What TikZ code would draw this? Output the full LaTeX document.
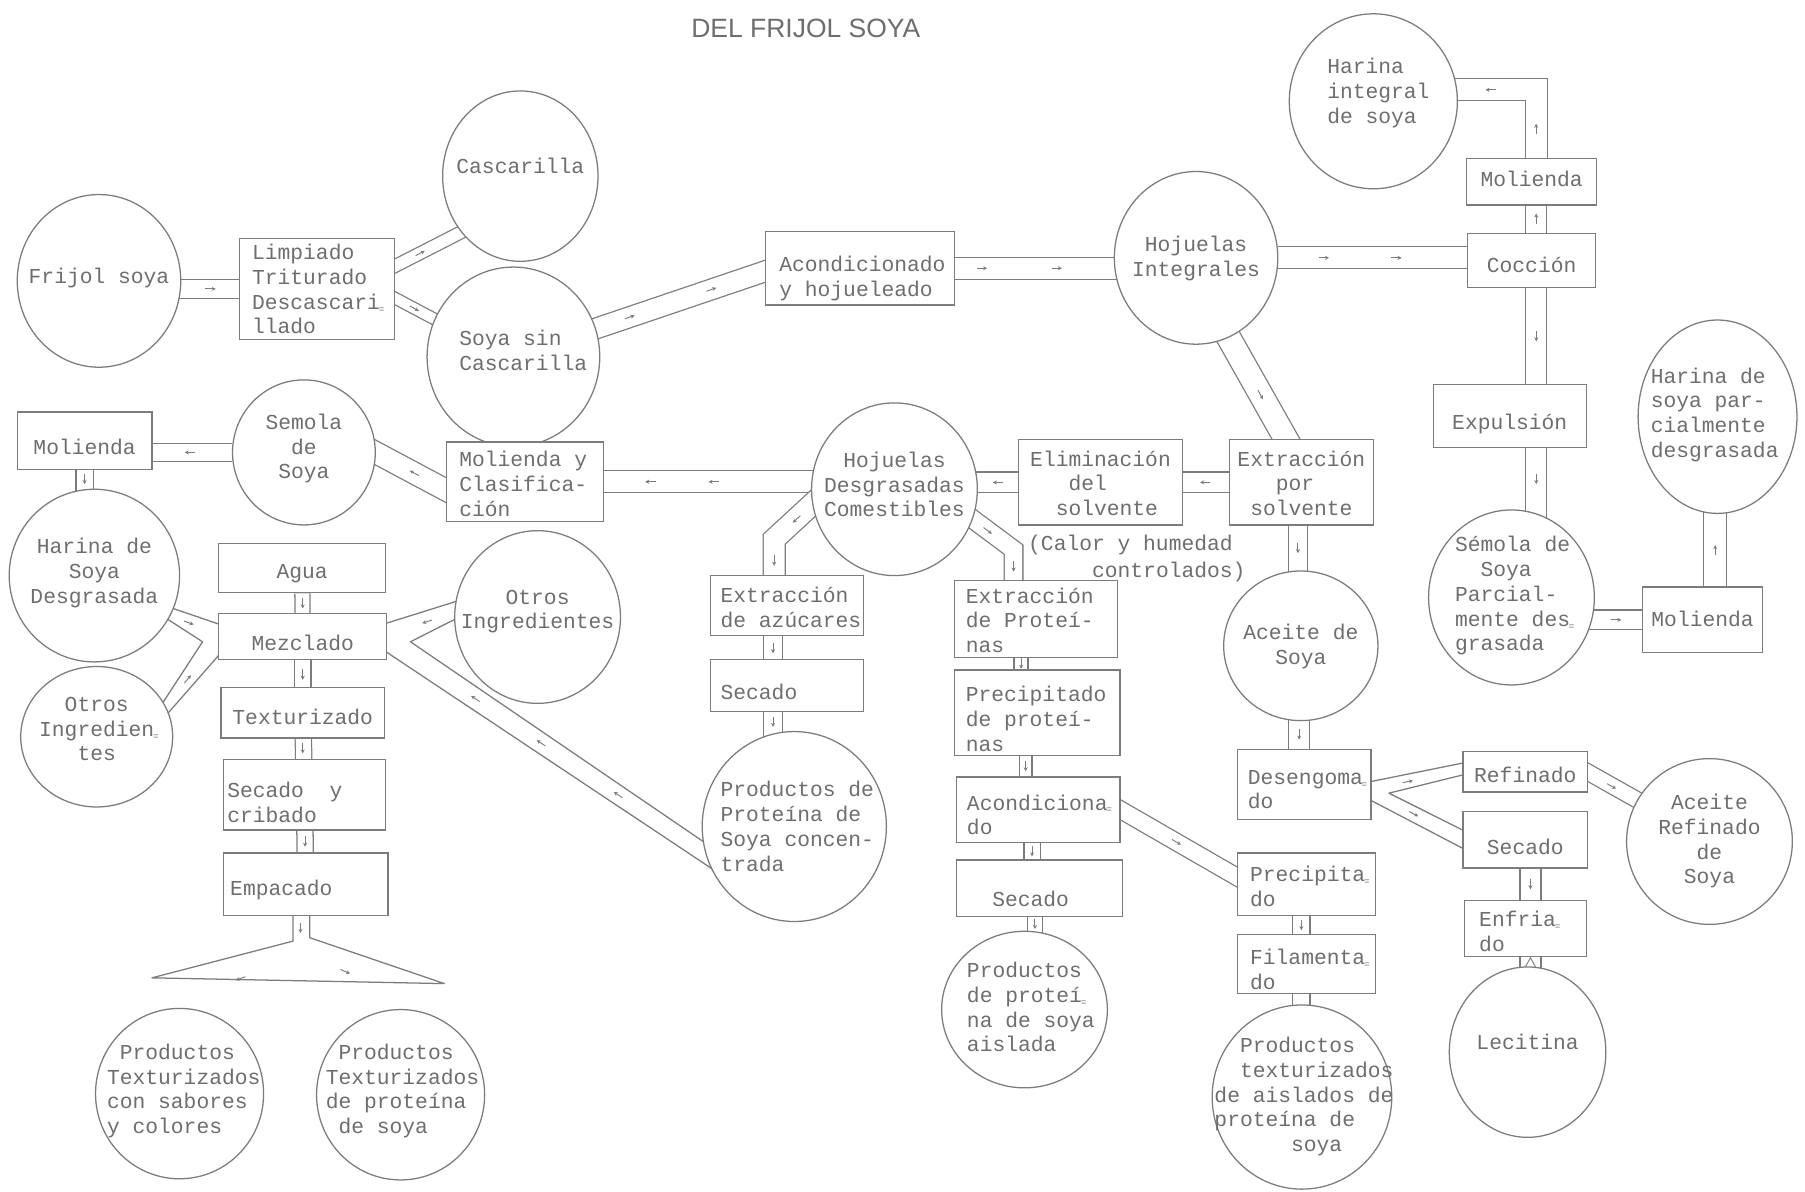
\documentclass[tikz,border=0pt]{standalone}
\usepackage{fontspec}
\newfontfamily\tw{Liberation Mono}
\newfontfamily\ttl{Liberation Sans}
\usetikzlibrary{shapes.geometric,calc,arrows.meta}
\pgfdeclarelayer{bg}
\pgfsetlayers{bg,main}
\definecolor{ink}{HTML}{7C7C7C}
\definecolor{txt}{HTML}{6E6E6E}
\newdimen\tshft \tshft=5.5pt
\newcommand\ctxt[2][0]{\smash{\makebox[0pt]{\raisebox{\dimexpr-#1pt-\tshft\relax}{\begin{tabular}{@{}c@{}}#2\end{tabular}}}}}
\newcommand\cltxt[2][0]{\smash{\makebox[0pt]{\raisebox{\dimexpr-#1pt-\tshft\relax}{\begin{tabular}{@{}l@{}}#2\end{tabular}}}}}
\newcommand\ltxt[3]{\smash{\makebox[0pt][l]{\hspace*{#1pt}\raisebox{\dimexpr-#2pt-\tshft\relax}{\begin{tabular}{@{}l@{}}#3\end{tabular}}}}}
\newcommand\hym{\rlap{\kern-1pt\raisebox{-2.5pt}{\fontsize{8}{8}\selectfont =}}}
\newcommand\marr[3]{\draw[mk] (#1,#2) ++(#3+180:4.5pt) -- ++(#3:9pt);}
\tikzset{
  circ/.style={ellipse, draw=ink, line width=1.1pt, fill=white, inner sep=0pt, text=txt, font=\tw\fontsize{18.5}{21.5}\selectfont},
  box/.style={rectangle, draw=ink, line width=1.1pt, fill=white, inner sep=0pt, text=txt, font=\tw\fontsize{18.5}{21.5}\selectfont},
  pipe/.style={draw=ink, line width=1.1pt, double=white, double distance=#1},
  pipe/.default=17pt,
  wall/.style={draw=ink, line width=1.1pt, line join=round},
  mk/.style={draw=ink, line width=0.8pt, -{Stealth[length=3.5pt,width=3.5pt]}}
}
\begin{document}
\begin{tikzpicture}[x=1pt,y=-1pt]
\useasboundingbox (0,0) rectangle (1568,1035);

% ---------- circles ----------
\node[circ,minimum width=142pt,minimum height=150pt] (frijol) at (86,244) {\ctxt[-3]{Frijol soya}};
\node[circ,minimum width=135pt,minimum height=148pt] (cascar) at (452,153) {\ctxt[-8]{Cascarilla}};
\node[circ,minimum width=150pt,minimum height=156pt] (soyasin) at (446,310) {\ltxt{-47}{-4.5}{Soya sin\\Cascarilla}};
\node[circ,minimum width=142pt,minimum height=150pt] (hojint) at (1039,224) {\ctxt{Hojuelas\\Integrales}};
\node[circ,minimum width=146pt,minimum height=152pt] (harint) at (1193,88) {\ltxt{-40}{-8}{Harina\\integral\\de soya}};
\node[circ,minimum width=124pt,minimum height=126pt] (semola) at (264,393) {\ctxt[-4]{Semola\\de\\Soya}};
\node[circ,minimum width=144pt,minimum height=150pt] (hojdes) at (777,425) {\ctxt[-3]{Hojuelas\\Desgrasadas\\Comestibles}};
\node[circ,minimum width=148pt,minimum height=150pt] (harinad) at (82,500) {\ctxt[-3]{Harina de\\Soya\\Desgrasada}};
\node[circ,minimum width=132pt,minimum height=122pt] (otrosL) at (84,640) {\ctxt[-6]{Otros\\Ingredien\hym\\tes}};
\node[circ,minimum width=144pt,minimum height=150pt] (otrosM) at (467,536) {\ctxt[-6]{Otros\\Ingredientes}};
\node[circ,minimum width=160pt,minimum height=165pt] (prodconc) at (690,718) {\ltxt{-64}{1}{Productos de\\Proteína de\\Soya concen-\\trada}};
\node[circ,minimum width=146pt,minimum height=148pt] (prodtexA) at (156,950) {\ltxt{-63}{-3}{\hphantom{x}Productos\\Texturizados\\con sabores\\y colores}};
\node[circ,minimum width=146pt,minimum height=148pt] (prodtexB) at (348,951) {\ltxt{-65}{-4}{\hphantom{x}Productos\\Texturizados\\de proteína\\\hphantom{x}de soya}};
\node[circ,minimum width=144pt,minimum height=136pt] (prodais) at (890,877) {\ltxt{-50}{-1}{Productos\\de proteí\hym\\na de soya\\aislada}};
\node[circ,minimum width=134pt,minimum height=130pt] (aceite) at (1130,561) {\ctxt{Aceite de\\Soya}};
\node[circ,minimum width=144pt,minimum height=152pt] (semolaP) at (1313,519) {\ltxt{-49}{-2}{Sémola de\\\hphantom{xx}Soya\\Parcial-\\mente des\hym\\grasada}};
\node[circ,minimum width=138pt,minimum height=168pt] (harinaP) at (1492,362) {\ltxt{-58}{-2.5}{Harina de\\soya par-\\cialmente\\desgrasada}};
\node[circ,minimum width=144pt,minimum height=144pt] (aceiteR) at (1485,731) {\ctxt[-1]{Aceite\\Refinado\\de\\Soya}};
\node[circ,minimum width=136pt,minimum height=148pt] (lecitina) at (1327,914) {\ctxt[-8]{Lecitina}};
\node[circ,minimum width=156pt,minimum height=160pt] (prodtexais) at (1131,953) {\ltxt{-76}{-1}{\hphantom{xx}Productos\\\hphantom{xx}texturizados\\de aislados de\\proteína de\\\hphantom{xxxxxx}soya}};

% ---------- boxes ----------
\node[box,minimum width=135pt,minimum height=88pt] (limp) at (275.5,251) {\ltxt{-56.5}{1.4}{Limpiado\\Triturado\\Descascari\hym\\llado}};
\node[box,minimum width=164pt,minimum height=64pt] (acond) at (747,233) {\ltxt{-70}{8}{Acondicionado\\y hojueleado}};
\node[box,minimum width=113pt,minimum height=40pt] (molT) at (1330.5,158) {\ctxt[-1.5]{Molienda}};
\node[box,minimum width=111pt,minimum height=47pt] (coccion) at (1330.5,226.5) {\ctxt[5]{Cocción}};
\node[box,minimum width=133pt,minimum height=55pt] (expulsion) at (1311.5,361.5) {\ctxt[6]{Expulsión}};
\node[box,minimum width=117pt,minimum height=50pt] (molL) at (73.5,383) {\ctxt[6]{Molienda}};
\node[box,minimum width=136pt,minimum height=69pt] (molclas) at (456,418.5) {\ltxt{-57}{3}{Molienda y\\Clasifica-\\ción}};
\node[box,minimum width=142pt,minimum height=74pt] (elim) at (956,419) {\cltxt[2]{Eliminación\\\hphantom{xxx}del\\\hphantom{xx}solvente}};
\node[box,minimum width=125pt,minimum height=74pt] (extsol) at (1130.5,419) {\cltxt[2]{Extracción\\\hphantom{xxx}por\\\hphantom{x}solvente}};
\node[box,minimum width=145pt,minimum height=43pt] (agua) at (262.5,493.5) {\ctxt[3.5]{Agua}};
\node[box,minimum width=146pt,minimum height=40pt] (mezclado) at (263,553) {\ctxt[7]{Mezclado}};
\node[box,minimum width=142pt,minimum height=44pt] (textur) at (263,619) {\ctxt[5]{Texturizado}};
\node[box,minimum width=141pt,minimum height=61pt] (secado1) at (264.5,690.5) {\ltxt{-67}{7.5}{Secado\hphantom{xx}y\\cribado}};
\node[box,minimum width=143pt,minimum height=54pt] (empacado) at (265.5,768) {\ltxt{-65.5}{4}{Empacado}};
\node[box,minimum width=133pt,minimum height=52pt] (extazu) at (683.5,526) {\ltxt{-57.5}{2.5}{Extracción\\de azúcares}};
\node[box,minimum width=133pt,minimum height=45pt] (secado2) at (683.5,595.5) {\ltxt{-57.5}{6.5}{Secado}};
\node[box,minimum width=142pt,minimum height=67pt] (extprot) at (900,537.5) {\ltxt{-61}{2.5}{Extracción\\de Proteí-\\nas}};
\node[box,minimum width=144pt,minimum height=74pt] (precprot) at (901,619) {\ltxt{-62}{6.5}{Precipitado\\de proteí-\\nas}};
\node[box,minimum width=142pt,minimum height=57pt] (acond2) at (902,703.5) {\ltxt{-62}{5.5}{Acondiciona\hym\\do}};
\node[box,minimum width=144pt,minimum height=49pt] (secado3) at (903,771.5) {\ltxt{-41}{10.5}{Secado}};
\node[box,minimum width=120pt,minimum height=54pt] (precip) at (1135,768) {\ltxt{-49}{3}{Precipita\hym\\do}};
\node[box,minimum width=120pt,minimum height=51pt] (filam) at (1135,837.5) {\ltxt{-49}{6}{Filamenta\hym\\do}};
\node[box,minimum width=116pt,minimum height=61pt] (deseng) at (1133,681.5) {\ltxt{-49}{5}{Desengoma\hym\\do}};
\node[box,minimum width=108pt,minimum height=35pt] (refinado) at (1325,670.5) {\ctxt[4]{Refinado}};
\node[box,minimum width=108pt,minimum height=49pt] (secado4) at (1325,729.5) {\ctxt[7.5]{Secado}};
\node[box,minimum width=106pt,minimum height=49pt] (enfriado) at (1325,806.5) {\ltxt{-40}{4}{Enfria\hym\\do}};
\node[box,minimum width=104pt,minimum height=57pt] (molR) at (1479,538.5) {\ctxt{Molienda}};

% ---------- free texts ----------
\node[font=\ttl\fontsize{23}{25}\selectfont, text=txt, inner sep=0pt] (title) at (700,25) {DEL FRIJOL SOYA};
\node[font=\tw\fontsize{18.5}{24}\selectfont, text=txt, inner sep=0pt, anchor=west, align=left] (calor) at (893,485) {(Calor y humedad\\\hphantom{(Calo}controlados)};

% ---------- connectors (behind the shapes) ----------
\begin{pgfonlayer}{bg}
\fill[white] (0,0) rectangle (1568,1035);
\draw[pipe=15pt] (limp -| frijol) -- (limp);
\draw[pipe=10pt] ($(limp.east)+(-8,-16)$) -- ($(cascar.center)!0.75!(cascar.229)$);
\draw[pipe=9pt] ($(limp.east)+(-8,4)$) -- ($(soyasin.center)!0.8!(soyasin.155)$);
\draw[pipe] ($(soyasin.center)!0.8!(soyasin.19)$) -- ($(acond.west)+(8,0)$);
\draw[pipe=18pt] (acond) -- (acond -| hojint);
\draw[pipe=18pt] (hojint) -- (hojint -| coccion);
\coordinate (cc) at ($(coccion.center)+(4,0)$);
\draw[pipe] (cc) -- (cc |- molT);
\draw[pipe=18pt] (cc |- molT) |- ($(harint.center)+(0,-10)$);
\draw[pipe] (cc) -- (cc |- expulsion);
\draw[pipe] (cc |- expulsion) -- (cc |- semolaP);
\draw[pipe=16pt] (molR -| semolaP) -- (molR);
\coordinate (cm) at ($(molR.center)+(11,0)$);
\draw[pipe=19pt] (cm) -- (cm |- harinaP);
\draw[pipe=20pt] ($(hojint.center)!0.85!(hojint.291)$) -- ($(extsol.north)+(-10,6)$);
\draw[pipe] (extsol) -- (elim);
\draw[pipe] (elim) -- (elim -| hojdes);
\draw[pipe=18pt] (molclas -| hojdes) -- (molclas);
\draw[pipe=18pt] ($(molclas.west)+(8,11.5)$) -- ($(semola.east)+(-8,-4)$);
\draw[pipe=15pt] (semola) -- (semola -| molL);
\draw[pipe=14pt] (molL) -- (molL |- harinad);
% left junction into Mezclado
\draw[wall] ($(harinad.center)+(58,25)$) -- ($(mezclado.west)+(6,-9)$);
\draw[wall] ($(harinad.center)+(56,33)$) -- ($(mezclado.west)+(-13.5,4.5)$) -- ($(otrosL.center)+(46,-12)$);
\draw[wall] ($(otrosL.center)+(44,0)$) -- ($(mezclado.west)+(6,10)$);
\draw[pipe=12pt] (agua) -- (mezclado);
% right junction into Mezclado
\draw[wall] ($(mezclado.east)+(-6,-10)$) -- ($(otrosM.center)+(-63,-16)$);
\draw[wall] ($(otrosM.center)+(-62,-3)$) -- ($(mezclado.east)+(20,4.5)$) -- ($(prodconc.center)+(-66,22)$);
\draw[wall] ($(mezclado.east)+(-6,10)$) -- ($(prodconc.center)+(-68,39)$);
\draw[pipe=13pt] (mezclado) -- (textur);
\draw[pipe=13pt] (textur) -- (secado1);
\draw[pipe=13pt] (secado1) -- (empacado);
% spreading out to the two products
\draw[wall] ($(empacado.south)+(-11,-5)$) -- ++(0,27) -- ($(prodtexA.north)+(-24,-26)$) -- ($(prodtexB.north)+(38,-22)$) -- ($(empacado.south)+(3.5,19)$) -- ($(empacado.south)+(3.5,-5)$);
% sugar extraction branch
\draw[pipe=18pt] ($(hojdes.center)+(-65,7)$) -- ($(extazu.north)+(-11,-31)$) -- ($(extazu.north)+(-11,8)$);
\coordinate (ca) at ($(extazu.center)+(-12,0)$);
\draw[pipe=15pt] (ca) -- (ca |- secado2);
\draw[pipe=15pt] (ca |- secado2) -- (ca |- prodconc);
% protein extraction branch
\draw[pipe=15pt] ($(hojdes.center)+(60,20)$) -- ($(extprot.north)+(-19.5,-26)$) -- ($(extprot.north)+(-19.5,8)$);
\coordinate (cp1) at ($(extprot.center)+(-13,0)$);
\draw[pipe=11pt] (cp1) -- (cp1 |- precprot);
\coordinate (cp2) at ($(precprot.center)+(-10,0)$);
\draw[pipe=10pt] (cp2) -- (cp2 |- acond2);
\coordinate (cp3) at ($(acond2.center)+(-5.5,0)$);
\draw[pipe=13pt] (cp3) -- (cp3 |- secado3);
\coordinate (cp4) at ($(secado3.center)+(-4,0)$);
\draw[pipe=12pt] (cp4) -- (cp4 |- prodais);
\draw[pipe=14pt] ($(acond2.east)+(-6,-3.4)$) -- ($(precip.west)+(5.6,-3)$);
\coordinate (cq) at ($(precip.center)+(-4.5,0)$);
\draw[pipe=14pt] (cq) -- (cq |- filam);
\draw[pipe=14pt] (cq |- filam) -- (cq |- prodtexais);
% oil branch
\coordinate (ce) at ($(extsol.center)+(-3,0)$);
\draw[pipe=15pt] (ce) -- (ce |- aceite);
\coordinate (ce2) at ($(aceite.center)+(-1.5,0)$);
\draw[pipe=17pt] (ce2) -- (ce2 |- deseng);
\draw[wall] ($(deseng.east)+(-6,-1.5)$) -- ($(refinado.west)+(7,-9)$);
\draw[wall] ($(refinado.west)+(7,1)$) -- ($(deseng.east)+(15,7.5)$) -- ($(secado4.west)+(7,-5)$);
\draw[wall] ($(deseng.east)+(-6,11)$) -- ($(secado4.west)+(7,11)$);
\draw[pipe=13pt] ($(refinado.east)+(-6,-3)$) -- ($(aceiteR.center)!0.85!(aceiteR.150)$);
\coordinate (cs) at ($(secado4.center)+(4.5,0)$);
\draw[pipe=17pt] (cs) -- (cs |- enfriado);
\draw[pipe=17pt] (cs |- enfriado) -- (cs |- lecitina);
\end{pgfonlayer}

% ---------- small flow arrows inside the pipes ----------
\marr{183}{251}{0}
\marr{365}{220}{27}
\marr{360}{268}{-30}
\marr{547}{275.5}{19}
\marr{618}{251.5}{19}
\marr{853}{233}{0}
\marr{918}{233}{0}
\marr{1150}{224}{0}
\marr{1213}{224}{0}
\marr{1334.5}{190}{90}
\marr{1334.5}{112}{90}
\marr{1295}{78}{180}
\marr{1334.5}{292}{-90}
\marr{1334.5}{416}{-90}
\marr{1404}{538.5}{0}
\marr{1490}{478}{90}
\marr{1095}{343}{-61}
\marr{1047}{419}{180}
\marr{867}{419}{180}
\marr{565}{418.5}{180}
\marr{620}{418.5}{180}
\marr{360}{411}{152}
\marr{165}{393}{180}
\marr{73.5}{416}{-90}
\marr{164}{541}{-20}
\marr{163}{590}{49}
\marr{263}{524}{-90}
\marr{371}{540}{197}
\marr{413}{607}{146}
\marr{470}{645.5}{146}
\marr{537}{690.5}{146}
\marr{263}{586}{-90}
\marr{263}{650}{-90}
\marr{265}{731}{-90}
\marr{261}{806}{-90}
\marr{209}{850}{200}
\marr{300}{844}{-24}
\marr{692}{451}{223}
\marr{672.5}{487}{-90}
\marr{671.5}{563}{-90}
\marr{671.5}{627}{-90}
\marr{858}{461}{-37}
\marr{880.5}{492}{-90}
\marr{887}{576.5}{-90}
\marr{891}{665.5}{-90}
\marr{896.5}{739.5}{-90}
\marr{899}{802.5}{-90}
\marr{1022}{731.5}{-30}
\marr{1130.5}{803.5}{-90}
\marr{1127.5}{476}{-90}
\marr{1128.5}{638}{-90}
\marr{1223}{679}{11}
\marr{1228}{707}{-28}
\marr{1400}{683}{-29}
\marr{1329.5}{768}{-90}
\draw[draw=ink, line width=0.8pt] (1325,840) -- (1329.5,832) -- (1334,840);
\end{tikzpicture}
\end{document}
